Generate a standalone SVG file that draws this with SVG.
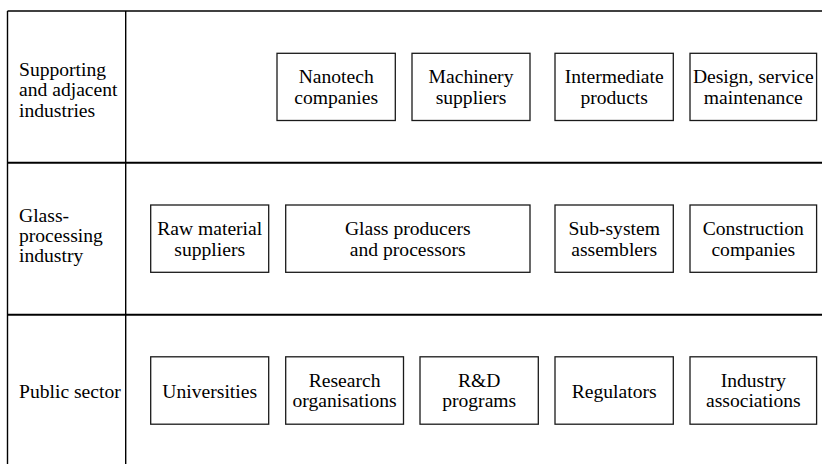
<svg xmlns="http://www.w3.org/2000/svg" width="822" height="464" viewBox="0 0 822 464">
  <style>
    .frame { stroke: #000; fill: none; stroke-width: 1.4; }
    .sep { stroke: #000; fill: none; stroke-width: 2; }
    .box { fill: #fff; stroke: #1a1a1a; stroke-width: 1.3; }
    text { font-family: "Liberation Serif", "Times New Roman", serif; font-size: 19.6px; fill: #000; }
    .c { text-anchor: middle; }
  </style>
  <rect width="822" height="464" fill="#fff"/>

  <!-- grid: outer frame, row separators, label column divider -->
  <g id="grid">
    <line class="frame" x1="7.5" y1="11" x2="822" y2="11"/>
    <line class="frame" x1="7.5" y1="11" x2="7.5" y2="464"/>
    <line class="frame" x1="125.7" y1="11" x2="125.7" y2="464"/>
    <line class="sep" x1="7.5" y1="162.7" x2="822" y2="162.7"/>
    <line class="sep" x1="7.5" y1="314.7" x2="822" y2="314.7"/>
  </g>

  <!-- row labels -->
  <g id="label-supporting">
    <text x="19" y="76">Supporting</text>
    <text x="19" y="96.3">and adjacent</text>
    <text x="19" y="116.6">industries</text>
  </g>
  <g id="label-glass">
    <text x="19" y="221.7">Glass-</text>
    <text x="19" y="242">processing</text>
    <text x="19" y="262.3">industry</text>
  </g>
  <g id="label-public">
    <text x="19" y="397.7">Public sector</text>
  </g>

  <!-- supporting and adjacent industries -->
  <g id="nanotech">
    <rect class="box" x="277" y="53.3" width="118.3" height="67.2"/>
    <text class="c" x="336.2" y="83.3">Nanotech</text>
    <text class="c" x="336.2" y="104">companies</text>
  </g>
  <g id="machinery">
    <rect class="box" x="412" y="53.3" width="118" height="67.2"/>
    <text class="c" x="471" y="83.3">Machinery</text>
    <text class="c" x="471" y="104">suppliers</text>
  </g>
  <g id="intermediate">
    <rect class="box" x="555" y="53.3" width="118.3" height="67.2"/>
    <text class="c" x="614.2" y="83.3">Intermediate</text>
    <text class="c" x="614.2" y="104">products</text>
  </g>
  <g id="design">
    <rect class="box" x="690" y="53.3" width="126.6" height="67.2"/>
    <text class="c" x="753.3" y="83.3">Design, service</text>
    <text class="c" x="753.3" y="104">maintenance</text>
  </g>

  <!-- glass-processing industry -->
  <g id="raw-material">
    <rect class="box" x="150.7" y="205" width="118" height="67.3"/>
    <text class="c" x="209.7" y="235">Raw material</text>
    <text class="c" x="209.7" y="255.7">suppliers</text>
  </g>
  <g id="glass-producers">
    <rect class="box" x="285.7" y="205" width="244.3" height="67.3"/>
    <text class="c" x="407.8" y="235">Glass producers</text>
    <text class="c" x="407.8" y="255.7">and processors</text>
  </g>
  <g id="sub-system">
    <rect class="box" x="555" y="205" width="118.3" height="67.3"/>
    <text class="c" x="614.2" y="235">Sub-system</text>
    <text class="c" x="614.2" y="255.7">assemblers</text>
  </g>
  <g id="construction">
    <rect class="box" x="690" y="205" width="126.6" height="67.3"/>
    <text class="c" x="753.3" y="235">Construction</text>
    <text class="c" x="753.3" y="255.7">companies</text>
  </g>

  <!-- public sector -->
  <g id="universities">
    <rect class="box" x="150.7" y="356.8" width="118" height="67.4"/>
    <text class="c" x="209.7" y="397.7">Universities</text>
  </g>
  <g id="research">
    <rect class="box" x="285.7" y="356.8" width="117.8" height="67.4"/>
    <text class="c" x="344.6" y="386.5">Research</text>
    <text class="c" x="344.6" y="407">organisations</text>
  </g>
  <g id="rd-programs">
    <rect class="box" x="420" y="356.8" width="118.3" height="67.4"/>
    <text class="c" x="479.2" y="386.5">R&amp;D</text>
    <text class="c" x="479.2" y="407">programs</text>
  </g>
  <g id="regulators">
    <rect class="box" x="555" y="356.8" width="118.3" height="67.4"/>
    <text class="c" x="614.2" y="397.7">Regulators</text>
  </g>
  <g id="industry-associations">
    <rect class="box" x="690" y="356.8" width="126.6" height="67.4"/>
    <text class="c" x="753.3" y="386.5">Industry</text>
    <text class="c" x="753.3" y="407">associations</text>
  </g>

  <!-- no connectors between nodes -->
  <g id="connectors"/>
</svg>
